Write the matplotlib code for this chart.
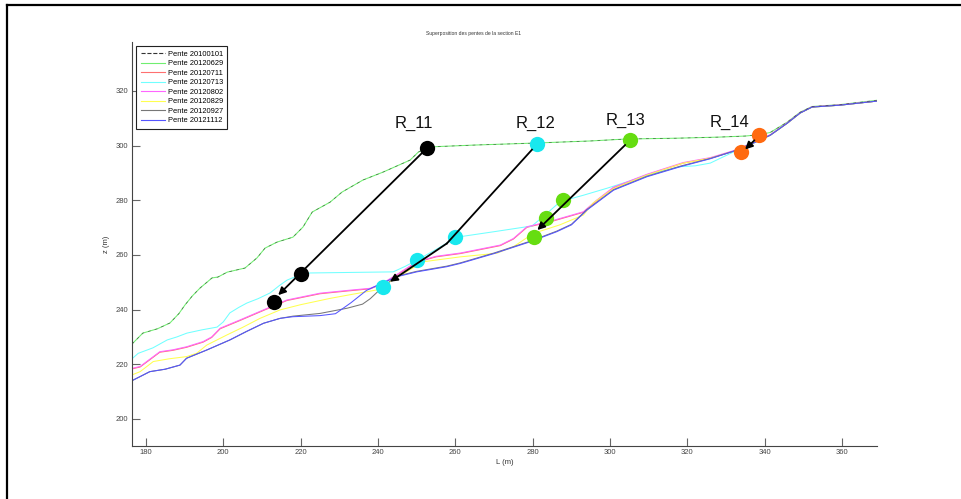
import numpy as np
import matplotlib
matplotlib.use("Agg")
from matplotlib import pyplot as plt
from matplotlib.lines import Line2D

plt.rcParams['font.family'] = ['Liberation Sans', 'DejaVu Sans']

# profils (L en m, z en m)
L_0629 = [176.4, 179.2, 183.0, 186.2, 188.5, 190.1, 192.0, 194.0, 197.1, 198.6, 201.0, 205.6, 208.7,
          210.8, 213.9, 218.0, 220.6, 223.0, 227.6, 230.7, 236.1, 241.3, 248.3, 250.4, 253.0, 265.0,
          280.0, 295.0, 304.0, 317.0, 328.0, 335.0, 338.5, 341.4, 345.8, 349.1, 352.2, 359.5, 369.1]
z_0629 = [227.4, 231.4, 233.0, 235.1, 238.5, 241.7, 245.0, 247.9, 251.6, 251.9, 253.7, 255.2, 258.9,
          262.5, 264.7, 266.5, 270.2, 275.7, 279.3, 283.0, 287.4, 290.3, 294.7, 297.6, 299.5, 300.2,
          300.9, 301.7, 302.4, 302.7, 303.1, 303.5, 304.0, 304.8, 308.6, 312.2, 314.3, 315.0, 316.6]

L_0713 = [176.4, 178.0, 181.8, 185.5, 188.0, 190.6, 194.5, 198.4, 200.0, 201.7, 204.0, 206.1, 209.0,
          212.1, 214.5, 216.5, 219.8, 222.4, 233.0, 243.9, 247.0, 250.1, 255.0, 260.4, 270.0, 279.8,
          283.5, 287.1, 293.0, 299.2, 305.0, 310.0, 318.2, 322.0, 325.9, 331.8, 337.0, 341.4, 345.8,
          349.1, 352.2, 359.5, 369.1]
z_0713 = [222.0, 224.0, 226.0, 228.9, 230.0, 231.4, 232.6, 233.6, 235.5, 238.8, 240.8, 242.4, 244.0,
          246.1, 248.8, 250.8, 252.7, 253.4, 253.6, 253.8, 255.8, 258.1, 262.0, 266.5, 268.5, 270.6,
          275.0, 279.5, 281.8, 284.4, 287.0, 289.5, 292.3, 292.6, 293.6, 297.6, 300.9, 303.8, 308.2,
          311.9, 314.1, 314.8, 316.3]

L_0802 = [176.4, 178.5, 180.2, 183.6, 187.0, 190.5, 194.8, 197.0, 199.2, 204.3, 210.4, 216.4, 225.0,
          232.0, 238.0, 241.0, 244.5, 250.0, 255.0, 261.3, 271.6, 275.0, 278.5, 285.0, 293.1, 296.5,
          300.9, 309.5, 318.9, 325.9, 331.8, 337.0, 341.4, 345.8, 349.1, 352.2, 359.5, 369.1]
z_0802 = [218.5, 219.2, 221.0, 224.6, 225.3, 226.4, 228.3, 230.0, 233.2, 236.2, 239.9, 243.5, 246.0,
          247.0, 247.8, 249.5, 252.5, 257.5, 259.5, 260.7, 263.6, 266.0, 270.3, 272.5, 275.8, 280.0,
          284.8, 289.5, 293.8, 295.6, 298.1, 301.1, 304.0, 308.4, 312.0, 314.2, 314.9, 316.3]

L_0711 = L_0802
z_0711 = [218.3, 219.0, 220.8, 224.4, 225.1, 226.2, 228.1, 229.8, 233.0, 236.0, 239.7, 243.3, 245.8,
          246.8, 247.6, 249.3, 252.3, 257.3, 259.3, 260.5, 263.4, 265.8, 270.1, 272.3, 275.6, 279.8,
          284.6, 289.3, 293.6, 295.4, 297.9, 300.9, 303.8, 308.2, 311.9, 314.1, 314.8, 316.3]

L_0829 = [176.4, 178.5, 181.9, 186.0, 190.5, 193.1, 195.7, 200.9, 205.0, 209.5, 214.7, 220.0, 227.6,
          233.0, 239.7, 244.0, 251.7, 261.3, 270.7, 275.0, 280.2, 287.0, 293.1, 295.6, 300.9, 309.5,
          318.9, 325.9, 331.8, 337.0, 341.4, 345.8, 349.1, 352.2, 359.5, 369.1]
z_0829 = [216.1, 217.3, 221.0, 222.0, 222.8, 224.0, 227.0, 230.7, 233.5, 236.8, 239.9, 241.8, 244.1,
          245.5, 247.2, 251.0, 257.5, 259.3, 260.6, 263.0, 267.9, 271.0, 274.6, 279.0, 284.3, 289.2,
          293.6, 295.4, 297.9, 300.9, 303.8, 308.2, 311.9, 314.1, 314.8, 316.3]

L_0927 = [176.4, 178.5, 181.0, 185.0, 188.8, 190.5, 195.7, 201.7, 206.0, 210.4, 214.7, 218.0, 225.0,
          232.0, 236.0, 238.0, 241.0, 244.8, 250.0, 257.8, 261.3, 270.0, 279.3, 286.2, 290.0, 294.0,
          300.9, 309.5, 318.2, 325.9, 331.8, 337.0, 341.4, 345.8, 349.1, 352.2, 359.5, 369.1]
z_0927 = [214.0, 215.5, 217.3, 218.2, 219.7, 222.2, 225.2, 228.9, 232.0, 235.0, 236.8, 237.6, 238.6,
          240.5, 242.0, 244.0, 248.0, 252.2, 254.0, 255.9, 257.1, 260.7, 265.0, 268.7, 271.2, 276.6,
          283.9, 288.8, 292.5, 295.3, 297.9, 300.9, 303.8, 308.2, 311.9, 314.1, 314.8, 316.3]

L_1112 = [176.4, 178.5, 181.0, 185.0, 188.8, 190.5, 195.7, 201.7, 206.0, 210.4, 214.7, 218.0, 225.0,
          229.0, 233.0, 237.0, 240.0, 244.8, 250.0, 257.8, 261.3, 270.0, 279.3, 286.2, 290.0, 294.0,
          300.9, 309.5, 318.2, 325.9, 331.8, 337.0, 341.4, 345.8, 349.1, 352.2, 359.5, 369.1]
z_1112 = [214.0, 215.5, 217.3, 218.2, 219.7, 222.2, 225.2, 228.9, 232.0, 235.0, 236.8, 237.4, 237.8,
          238.5, 242.5, 247.0, 249.0, 252.0, 253.8, 255.7, 256.9, 260.5, 264.8, 268.5, 271.0, 276.4,
          283.7, 288.6, 292.3, 295.2, 297.9, 300.9, 303.8, 308.2, 311.9, 314.1, 314.8, 316.3]

# points des ruptures
R11_L = [252.6, 220.2, 213.0]
R11_z = [299.0, 252.9, 242.7]
R12_L = [281.0, 260.0, 250.0, 241.4]
R12_z = [300.5, 266.5, 258.1, 248.4]
R13_L = [305.2, 287.8, 283.5, 280.4]
R13_z = [302.0, 280.1, 273.4, 266.7]
R14_L = [338.6, 333.9]
R14_z = [303.7, 297.7]
labels = ['R_11', 'R_12', 'R_13', 'R_14']
label_L = [249.2, 280.7, 304.0, 330.9]
label_z = [308.0, 308.0, 309.1, 308.4]

fig = plt.figure(figsize=(9.61, 4.99), dpi=100)
ax = fig.add_axes([132/961, 1-446/499, (877-132)/961, (446-42)/499])

ax.plot(L_0629, z_0629, color='#70ee70', lw=0.75)
ax.plot(L_0711, z_0711, color='#ff7070', lw=0.75)
ax.plot(L_0713, z_0713, color='#70ffff', lw=0.75)
ax.plot(L_0802, z_0802, color='#ff66ff', lw=0.75)
ax.plot(L_0829, z_0829, color='#ffff50', lw=0.75)
ax.plot(L_0927, z_0927, color='#777777', lw=0.75)
ax.plot(L_1112, z_1112, color='#5555ff', lw=0.75)
ax.plot(L_0629, z_0629, color='#222222', lw=0.5, ls=(0, (4, 6)), alpha=0.6)

handles = [Line2D([], [], color='#333333', lw=0.8, ls='--'),
           Line2D([], [], color='#70ee70', lw=0.8),
           Line2D([], [], color='#ff7070', lw=0.8),
           Line2D([], [], color='#70ffff', lw=0.8),
           Line2D([], [], color='#ff66ff', lw=0.8),
           Line2D([], [], color='#ffff50', lw=0.8),
           Line2D([], [], color='#777777', lw=0.8),
           Line2D([], [], color='#5555ff', lw=0.8)]
names = ['Pente 20100101', 'Pente 20120629', 'Pente 20120711', 'Pente 20120713',
         'Pente 20120802', 'Pente 20120829', 'Pente 20120927', 'Pente 20121112']
leg = ax.legend(handles, names, loc='upper left', bbox_to_anchor=(136/961, 1-46/499),
                bbox_transform=fig.transFigure, borderaxespad=0, fontsize=5.4,
                handlelength=3.2, handletextpad=0.4, labelspacing=0.3, borderpad=0.6,
                fancybox=False, framealpha=1)
leg.get_frame().set_edgecolor('#222222')
leg.get_frame().set_linewidth(0.8)

# fleches
arr = dict(arrowstyle='-|>', lw=1.3, color='k', mutation_scale=11, shrinkA=5, shrinkB=0)
ax.annotate('', xy=(214.2, 245.3), xytext=(R11_L[0], R11_z[0]), arrowprops=arr, zorder=6)
ax.plot([R12_L[0] - 1.2, 257.8], [R12_z[0] - 2.0, 264.2], color='k', lw=1.3, zorder=6)
ax.annotate('', xy=(243.1, 250.2), xytext=(257.8, 264.2),
            arrowprops=dict(arr, shrinkA=0), zorder=6)
ax.annotate('', xy=(281.2, 269.1), xytext=(R13_L[0], R13_z[0]), arrowprops=arr, zorder=6)
ax.annotate('', xy=(334.9, 298.6), xytext=(R14_L[0], R14_z[0]), arrowprops=arr, zorder=6)

ax.plot(R11_L, R11_z, 'o', color='black', ms=11, mec='none', zorder=5)
ax.plot(R12_L, R12_z, 'o', color='#18e8ee', ms=11, mec='none', zorder=5)
ax.plot(R13_L, R13_z, 'o', color='#66dd11', ms=11, mec='none', zorder=5)
ax.plot(R14_L, R14_z, 'o', color='#ff6a10', ms=11, mec='none', zorder=5)
for t, x, y in zip(labels, label_L, label_z):
    ax.text(x, y, t, fontsize=12, ha='center', va='center', color='#111111')

ax.set_xlim(176.4, 369.0)
ax.set_ylim(190.1, 337.9)
ax.set_xticks(np.arange(180, 361, 20))
ax.set_yticks(np.arange(200, 321, 20))
ax.tick_params(direction='in', length=5.5, width=0.8, color='#666666',
               labelsize=5.5, labelcolor='#444444', pad=2.5)
for s in ['top', 'right']:
    ax.spines[s].set_visible(False)
for s in ['left', 'bottom']:
    ax.spines[s].set_color('#444444')
    ax.spines[s].set_linewidth(0.8)
ax.set_xlabel('L (m)', fontsize=5.5, color='#333333', labelpad=2)
ax.set_ylabel('z (m)', fontsize=5.5, color='#333333', labelpad=4)

fig.text(474/961, 1-34/499, 'Superposition des pentes de la section E1', fontsize=3.6,
         ha='center', va='center', color='#333333')

# cadre exterieur
fig.add_artist(Line2D([7/961, 7/961], [0, 1-5/499], color='k', lw=1.6, transform=fig.transFigure))
fig.add_artist(Line2D([7/961, 1], [1-5/499, 1-5/499], color='k', lw=1.6, transform=fig.transFigure))

fig.savefig('out.png', dpi=100)
